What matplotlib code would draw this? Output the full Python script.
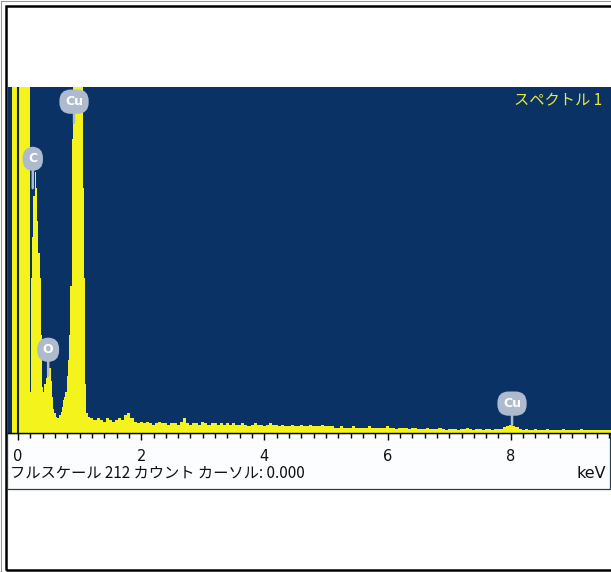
import numpy as np
import matplotlib
matplotlib.use("Agg")
import matplotlib.pyplot as plt
from matplotlib.patches import Rectangle
from matplotlib.ticker import MultipleLocator

W, H = 611, 572

# EDS spectrum, counts per channel read off the screen shot
# low energy part: 0.02 keV channels starting at -0.10 keV
low_start, low_step = -0.10, 0.02
low_counts = [400, 400, 400, 400, 400, 400, 400, 400, 400, 400,
              400, 400, 400, 400, 400, 25, 95, 120, 145, 160,
              150, 130, 110, 95, 60, 28, 25, 30, 34, 40,
              44, 40, 32, 22, 15, 12, 10, 9, 9, 11,
              13, 16, 20, 22, 25, 35, 45, 60, 90, 180,
              250, 250, 250, 250, 250, 250, 250, 240, 150, 95,
              30, 12]
# continuum: 0.05 keV channels starting at 1.15 keV
high_start, high_step = 1.15, 0.05
high_counts = [10, 9, 8, 9, 8, 7, 9, 8, 7, 8, 9, 8,
               11, 12, 9,
               7, 6, 7, 6, 7, 6, 5, 6, 7, 6, 6, 5, 6,
               6, 5, 7, 9, 6, 5, 6, 6, 5, 7, 6, 5, 6, 6, 5, 6,
               5, 6, 5, 6, 5, 5, 6, 5, 4, 5, 6, 5, 5, 4, 5, 6, 5, 5,
               4, 5, 4, 4, 5, 4, 4, 5, 4, 4, 5, 4, 4, 4, 5, 4, 4, 4,
               3, 3, 4, 3, 3, 3, 4, 3, 3, 3, 3, 4, 3, 3, 3, 3, 3, 4, 3, 3,
               2.5, 3, 3, 3, 2.5, 3, 3, 2.5,
               2.5, 2.5, 3, 2.5, 2.5, 2.5, 3, 2.5, 2, 2.5, 2.5, 2.5, 2, 2.5,
               2.5, 3, 2.5, 2, 2.5, 2.5, 2, 2.5, 2.5, 2, 2.5, 2.5, 2.5,
               3.5, 4.5, 5, 4.5, 3.5, 2.5,
               2, 2.5, 2, 2, 2.5, 2, 2, 2, 2.5, 2, 2, 2, 2, 2.5, 2,
               2, 2, 2, 2, 2.5, 2, 2, 2, 2, 2, 2, 2, 2, 2, 2]

full_scale = 212
cursor_kev = 0.0

# element markers
peak_names = ["C", "O", "Cu", "Cu"]
peak_kev = [0.24, 0.49, 0.91, 8.02]
label_counts = [168, 51, 203, 18]
stem_counts = [150, 35, 190, 5]

major_ticks = [0, 2, 4, 6, 8]
tick_labels = ["0", "2", "4", "6", "8"]

status_text = "フルスケール 212 カウント カーソル: 0.000"
title_text = "スペクトル 1"
unit_text = "keV"

blue = "#0a3265"
yellow = "#f4f41c"
bubble = "#aebbce"
jp = ["Noto Sans CJK JP", "DejaVu Sans"]

low_e = low_start + low_step * np.arange(len(low_counts))
high_e = high_start + high_step * np.arange(len(high_counts))
energy = np.concatenate([low_e, high_e])
counts = np.concatenate([low_counts, high_counts])

fig = plt.figure(figsize=(W / 100, H / 100), dpi=100)

def fx(x):
    return x / W

def fy(y):
    return 1 - y / H

# outer gray edge and black frame (right side runs off the picture)
fig.patches.append(Rectangle((fx(0.5), fy(571.5)), 2, (571 / H), transform=fig.transFigure,
                             fill=False, ec="#9a9a9a", lw=0.8, zorder=-3))
fig.patches.append(Rectangle((fx(5.5), fy(569.5)), 2, (564 / H), transform=fig.transFigure,
                             fill=False, ec="black", lw=1.8, zorder=-3))
# white strip under the spectrum
fig.patches.append(Rectangle((fx(7.5), fy(489)), fx(602.5), (56 / H), transform=fig.transFigure,
                             fc="#fcfdff", ec="#2a3b55", lw=0.9, zorder=-2))

# spectrum panel, 0 keV at x=18 px, 61.6 px per keV
px_per_kev = 61.6
ax = fig.add_axes([fx(8), fy(433), fx(603), (433 - 87) / H])
ax.set_facecolor(blue)
ax.set_xlim((8 - 18) / px_per_kev, (611 - 18) / px_per_kev)
ax.set_ylim(0, full_scale)

ax.fill_between(energy, counts, 0, step="mid", color=yellow, lw=0)
ax.axvline(cursor_kev, color="#15263c", lw=1.5)

for name, x, ly, sy in zip(peak_names, peak_kev, label_counts, stem_counts):
    ax.annotate(name, xy=(x, sy), xytext=(x, ly), ha="center", va="center",
                color="white", fontsize=9, fontweight="bold",
                bbox=dict(boxstyle="round,pad=0.45,rounding_size=0.9", fc=bubble, ec="none"),
                arrowprops=dict(arrowstyle="-", color=bubble, lw=1.8, shrinkA=0, shrinkB=0))

for side in ["top", "left", "right"]:
    ax.spines[side].set_visible(False)
ax.spines["bottom"].set_color("black")
ax.spines["bottom"].set_linewidth(1.0)
ax.set_yticks([])
ax.set_xticks(major_ticks)
ax.set_xticklabels(tick_labels)
ax.xaxis.set_minor_locator(MultipleLocator(0.2))
ax.tick_params(axis="x", which="major", length=5, width=1, color="black",
               direction="out", pad=6.5, labelsize=10.5, labelcolor="#111111")
ax.tick_params(axis="x", which="minor", length=3.5, width=1, color="black", direction="out")

fig.text(fx(602), fy(101), title_text, ha="right", va="center", color="#e8e83a",
         fontsize=11, family=jp)
fig.text(fx(10), fy(473), status_text, ha="left", va="center", color="#111111",
         fontsize=11, family=jp)
fig.text(fx(606), fy(474), unit_text, ha="right", va="center", color="#111111", fontsize=11.5)

fig.savefig("out.png", dpi=100)
